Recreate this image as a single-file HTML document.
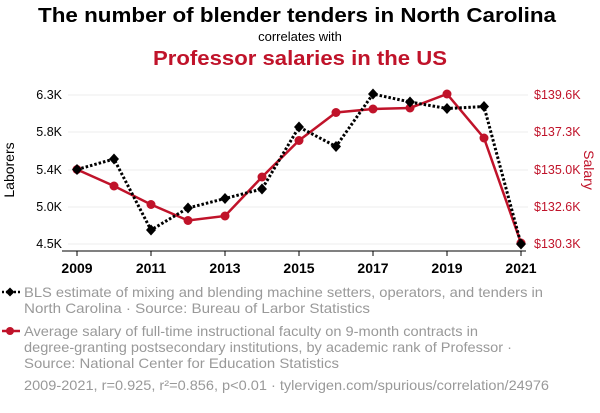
<!DOCTYPE html>
<html><head><meta charset="utf-8"><style>
body{margin:0;background:#fff;width:600px;height:408px;overflow:hidden;font-family:"Liberation Sans",sans-serif}
</style></head><body>
<svg width="600" height="408" xmlns="http://www.w3.org/2000/svg" font-family="Liberation Sans, sans-serif">
<text x="38" y="22" font-size="20" font-weight="bold" fill="#000" textLength="518" lengthAdjust="spacingAndGlyphs">The number of blender tenders in North Carolina</text>
<text x="300" y="41" text-anchor="middle" font-size="13" fill="#000">correlates with</text>
<text x="153" y="65" font-size="20" font-weight="bold" fill="#c0132a" textLength="294" lengthAdjust="spacingAndGlyphs">Professor salaries in the US</text>
<g stroke="#eee" stroke-width="1">
<line x1="68" y1="95" x2="528" y2="95"/><line x1="68" y1="132" x2="528" y2="132"/><line x1="68" y1="170" x2="528" y2="170"/><line x1="68" y1="207" x2="528" y2="207"/><line x1="68" y1="244" x2="528" y2="244"/>
</g>
<g font-size="12.5" fill="#000" text-anchor="end">
<text x="62" y="99">6.3K</text><text x="62" y="136">5.8K</text><text x="62" y="174">5.4K</text><text x="62" y="211">5.0K</text><text x="62" y="248">4.5K</text>
</g>
<g font-size="12.5" fill="#c0132a">
<text x="534" y="99">$139.6K</text><text x="534" y="136">$137.3K</text><text x="534" y="174">$135.0K</text><text x="534" y="211">$132.6K</text><text x="534" y="248">$130.3K</text>
</g>
<text transform="translate(14,170) rotate(-90)" text-anchor="middle" font-size="14">Laborers</text>
<text transform="translate(584,170) rotate(90)" text-anchor="middle" font-size="14" fill="#c0132a">Salary</text>
<line x1="62" y1="251" x2="526" y2="251" stroke="#000"/>
<g stroke="#000"><line x1="77" y1="251" x2="77" y2="256"/><line x1="151" y1="251" x2="151" y2="256"/><line x1="225" y1="251" x2="225" y2="256"/><line x1="299" y1="251" x2="299" y2="256"/><line x1="373" y1="251" x2="373" y2="256"/><line x1="447" y1="251" x2="447" y2="256"/><line x1="521" y1="251" x2="521" y2="256"/></g>
<g font-size="14" font-weight="bold" text-anchor="middle">
<text x="77" y="273">2009</text><text x="151" y="273">2011</text><text x="225" y="273">2013</text><text x="299" y="273">2015</text><text x="373" y="273">2017</text><text x="447" y="273">2019</text><text x="521" y="273">2021</text>
</g>
<polyline fill="none" stroke="#c0132a" stroke-width="2.5" points="77,169.5 114,186 151,204.5 188,220.5 225,216 262,177 299,140.5 336,112.5 373,109 410,108 447,94 484,138 521,243"/>
<g fill="#c0132a"><circle cx="77" cy="169.5" r="4.5"/><circle cx="114" cy="186" r="4.5"/><circle cx="151" cy="204.5" r="4.5"/><circle cx="188" cy="220.5" r="4.5"/><circle cx="225" cy="216" r="4.5"/><circle cx="262" cy="177" r="4.5"/><circle cx="299" cy="140.5" r="4.5"/><circle cx="336" cy="112.5" r="4.5"/><circle cx="373" cy="109" r="4.5"/><circle cx="410" cy="108" r="4.5"/><circle cx="447" cy="94" r="4.5"/><circle cx="484" cy="138" r="4.5"/><circle cx="521" cy="243" r="4.5"/></g>
<polyline fill="none" stroke="#000" stroke-width="3" stroke-dasharray="2.5,2" points="77,169.5 114,159 151,230 188,208 225,198.5 262,189 299,127 336,146.5 373,94 410,102 447,108.5 484,106.5 521,244"/>
<g fill="#000">
<path d="M77 164l5 5.5-5 5.5-5-5.5z"/><path d="M114 153.5l5 5.5-5 5.5-5-5.5z"/><path d="M151 224.5l5 5.5-5 5.5-5-5.5z"/><path d="M188 202.5l5 5.5-5 5.5-5-5.5z"/><path d="M225 193l5 5.5-5 5.5-5-5.5z"/><path d="M262 183.5l5 5.5-5 5.5-5-5.5z"/><path d="M299 121.5l5 5.5-5 5.5-5-5.5z"/><path d="M336 141l5 5.5-5 5.5-5-5.5z"/><path d="M373 88.5l5 5.5-5 5.5-5-5.5z"/><path d="M410 96.5l5 5.5-5 5.5-5-5.5z"/><path d="M447 103l5 5.5-5 5.5-5-5.5z"/><path d="M484 101l5 5.5-5 5.5-5-5.5z"/><path d="M521 238.5l5 5.5-5 5.5-5-5.5z"/>
</g>
<line x1="2" y1="292" x2="20" y2="292" stroke="#000" stroke-width="2.5" stroke-dasharray="2,2"/>
<path d="M10 287.5l4.5 4.5-4.5 4.5-4.5-4.5z" fill="#000"/>
<line x1="2" y1="331" x2="20" y2="331" stroke="#c0132a" stroke-width="2.5"/>
<circle cx="10" cy="331" r="4" fill="#c0132a"/>
<g font-size="14" fill="#999" lengthAdjust="spacingAndGlyphs">
<text x="24" y="297" textLength="519" lengthAdjust="spacingAndGlyphs">BLS estimate of mixing and blending machine setters, operators, and tenders in</text>
<text x="24" y="313" textLength="346" lengthAdjust="spacingAndGlyphs">North Carolina · Source: Bureau of Larbor Statistics</text>
<text x="24" y="336" textLength="454" lengthAdjust="spacingAndGlyphs">Average salary of full-time instructional faculty on 9-month contracts in</text>
<text x="24" y="352" textLength="488" lengthAdjust="spacingAndGlyphs">degree-granting postsecondary institutions, by academic rank of Professor ·</text>
<text x="24" y="368" textLength="315" lengthAdjust="spacingAndGlyphs">Source: National Center for Education Statistics</text>
<text x="24" y="390" textLength="525" lengthAdjust="spacingAndGlyphs">2009-2021, r=0.925, r²=0.856, p&lt;0.01 · tylervigen.com/spurious/correlation/24976</text>
</g>
</svg>
</body></html>
